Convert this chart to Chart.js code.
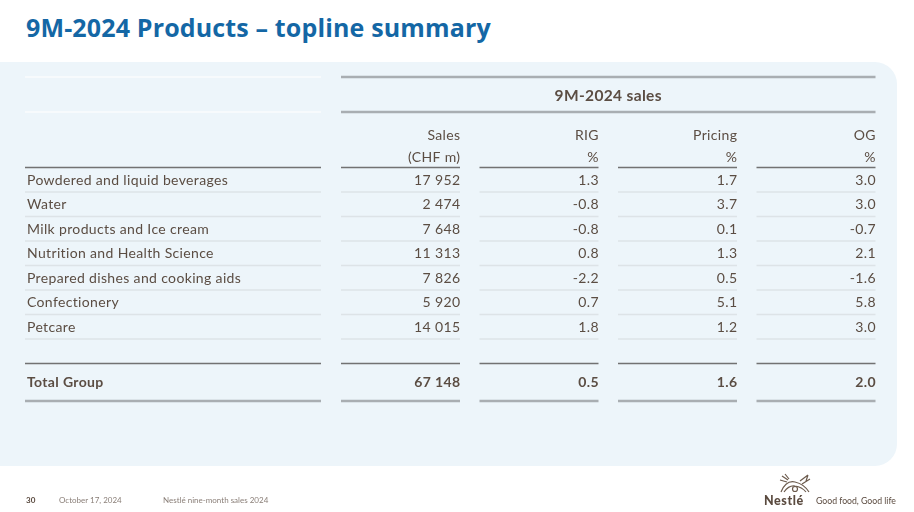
<!DOCTYPE html>
<html>
<head>
<meta charset="utf-8">
<script src="https://cdn.jsdelivr.net/npm/chart.js@4.4.1/dist/chart.umd.min.js"></script>
<style>
  html, body { margin: 0; padding: 0; background: #fff; width: 914px; height: 512px; overflow: hidden; font-family: Lato, "Open Sans", sans-serif; }
  #title { position: absolute; left: 26px; top: 10px; font-size: 25px; font-weight: 700; color: #1467a5; white-space: nowrap; font-family: "Open Sans", sans-serif; letter-spacing: 0.15px; }
  #panel { position: absolute; left: -30px; top: 62px; width: 927px; height: 404px; background: #edf5fa; border-radius: 22px; }
  #wrap { position: absolute; left: 0; top: 0; width: 914px; height: 512px; }
  .foot { position: absolute; top: 495px; font-size: 8px; color: #8a7f78; white-space: nowrap; }
  #logo { position: absolute; left: 764px; top: 493px; font-size: 12.5px; font-weight: 900; color: #5a4a3f; letter-spacing: 0.6px; }
  #slogan { position: absolute; left: 816px; top: 495px; font-size: 8.7px; color: #5a4a3f; white-space: nowrap; }
  #nest { position: absolute; left: 778px; top: 472px; }
</style>
</head>
<body>
<div id="title">9M-2024 Products – topline summary</div>
<div id="panel"></div>
<div id="wrap"><canvas id="chartTabela" width="914" height="512"></canvas></div>
<div class="foot" style="left:26px;font-weight:700;color:#5a4a3f">30</div>
<div class="foot" style="left:59px">October 17, 2024</div>
<div class="foot" style="left:163px">Nestlé nine-month sales 2024</div>
<svg id="nest" width="34" height="22" viewBox="0 0 34 22" fill="none" stroke="#6b5a4c" stroke-width="1.2">
  <path d="M3 20 Q8 8 17 10 Q26 12 31 20"/>
  <path d="M6 20 Q11 13 17 14 Q24 15 28 20"/>
  <path d="M4 4 L10 8 M7 2 L11 7 M2 8 L9 10"/>
  <path d="M22 9 L30 3 M30 3 L28 9 M24 12 L32 7"/>
  <circle cx="17" cy="17" r="2.5"/>
</svg>
<div id="logo">Nestlé</div>
<div id="slogan">Good food, Good life</div>
<script>
// dados da tabela
const groupTitle = '9M-2024 sales';
const columns = ['Sales', 'RIG', 'Pricing', 'OG'];
const columnUnits = ['(CHF m)', '%', '%', '%'];
const categories = ['Powdered and liquid beverages', 'Water', 'Milk products and Ice cream', 'Nutrition and Health Science', 'Prepared dishes and cooking aids', 'Confectionery', 'Petcare'];
const sales = [17952, 2474, 7648, 11313, 7826, 5920, 14015];
const rig = [1.3, -0.8, -0.8, 0.8, -2.2, 0.7, 1.8];
const pricing = [1.7, 3.7, 0.1, 1.3, 0.5, 5.1, 1.2];
const og = [3.0, 3.0, -0.7, 2.1, -1.6, 5.8, 3.0];
const totalLabel = 'Total Group';
const totals = [67148, 0.5, 1.6, 2.0];

const rows = [...categories, '', totalLabel];
const seriesByColumn = [sales, rig, pricing, og];

const fmtSales = (n) => n.toLocaleString('en-US').replace(/,/g, ' ');
const fmtPct = (n) => n.toFixed(1);
const fmtCell = (col, n) => col === 0 ? fmtSales(n) : fmtPct(n);

const TEXT = '#5b4d43';
const FONT = 'Lato, "Open Sans", sans-serif';
const COL_W = 119;
const LABEL_L = 25, LABEL_R = 321;

const tablePlugin = {
    id: 'tablePlugin',
    beforeDraw(chart) {
        const { ctx, chartArea, scales: { x, y } } = chart;
        const band = x.width / columns.length;
        const rowH = y.height / rows.length;
        const top = chartArea.top;
        const colLeft = (i) => x.getPixelForValue(i) - band / 2;
        const colRight = (i) => colLeft(i) + COL_W;
        const totalIdx = rows.length - 1;
        const totalY = y.getPixelForValue(totalIdx) + 6.5;
        const bottomLine = chartArea.bottom + 13;

        const hline = (x1, x2, yy, color, w) => {
            ctx.save();
            ctx.strokeStyle = color;
            ctx.lineWidth = w;
            ctx.beginPath();
            ctx.moveTo(x1, yy);
            ctx.lineTo(x2, yy);
            ctx.stroke();
            ctx.restore();
        };
        const text = (s, xx, yy, align, bold, size = 14) => {
            ctx.save();
            ctx.fillStyle = TEXT;
            ctx.font = (bold ? '700 ' : '400 ') + size + 'px ' + FONT;
            ctx.letterSpacing = '0.35px';
            ctx.textAlign = align;
            ctx.textBaseline = 'middle';
            // letterSpacing also pads after the last glyph, compensate for right alignment
            ctx.fillText(s, align === 'right' ? xx + 0.35 : xx, yy + 0.5);
            ctx.restore();
        };

        // cabeçalho do grupo
        const gL = colLeft(0), gR = colRight(columns.length - 1);
        hline(LABEL_L, LABEL_R, top - 90.5, '#f7fafc', 2);
        hline(LABEL_L, LABEL_R, top - 55.5, '#f7fafc', 2);
        hline(gL, gR, top - 90.5, '#a9aeb2', 2.5);
        hline(gL, gR, top - 55.5, '#a9aeb2', 2.5);
        text(groupTitle, (gL + gR) / 2, top - 72, 'center', true, 15.5);

        // cabeçalhos das colunas
        columns.forEach((c, i) => {
            text(c, colRight(i), top - 32.5, 'right', false);
            text(columnUnits[i], colRight(i), top - 10.5, 'right', false);
            hline(colLeft(i), colRight(i), top, '#727272', 1.5);
        });
        hline(LABEL_L, LABEL_R, top, '#727272', 1.5);

        // linhas das categorias
        categories.forEach((cat, r) => {
            const yy = y.getPixelForValue(r);
            const sep = yy + rowH / 2;
            text(cat, LABEL_L + 2, yy, 'left', false);
            hline(LABEL_L, LABEL_R, sep, '#dde3e7', 1.5);
            seriesByColumn.forEach((serie, i) => {
                text(fmtCell(i, serie[r]), colRight(i), yy, 'right', false);
                hline(colLeft(i), colRight(i), sep, '#dde3e7', 1.5);
            });
        });

        // total
        const spacerBottom = y.getPixelForValue(totalIdx - 1) + rowH / 2;
        hline(LABEL_L, LABEL_R, spacerBottom, '#727272', 1.5);
        hline(LABEL_L, LABEL_R, bottomLine, '#a9aeb2', 2.5);
        text(totalLabel, LABEL_L + 2, totalY, 'left', true);
        totals.forEach((v, i) => {
            hline(colLeft(i), colRight(i), spacerBottom, '#727272', 1.5);
            hline(colLeft(i), colRight(i), bottomLine, '#a9aeb2', 2.5);
            text(fmtCell(i, v), colRight(i), totalY, 'right', true);
        });
    }
};

new Chart(document.getElementById('chartTabela'), {
    type: 'bar',
    data: { labels: columns, datasets: [] },
    options: {
        responsive: false,
        animation: false,
        events: [],
        layout: { padding: { top: 167.5, left: 341, right: 19, bottom: 124 } },
        scales: {
            x: { type: 'category', labels: columns, offset: true, display: false },
            y: { type: 'category', labels: rows, offset: true, display: false }
        },
        plugins: { legend: { display: false }, tooltip: { enabled: false } }
    },
    plugins: [tablePlugin]
});
</script>
</body>
</html>
